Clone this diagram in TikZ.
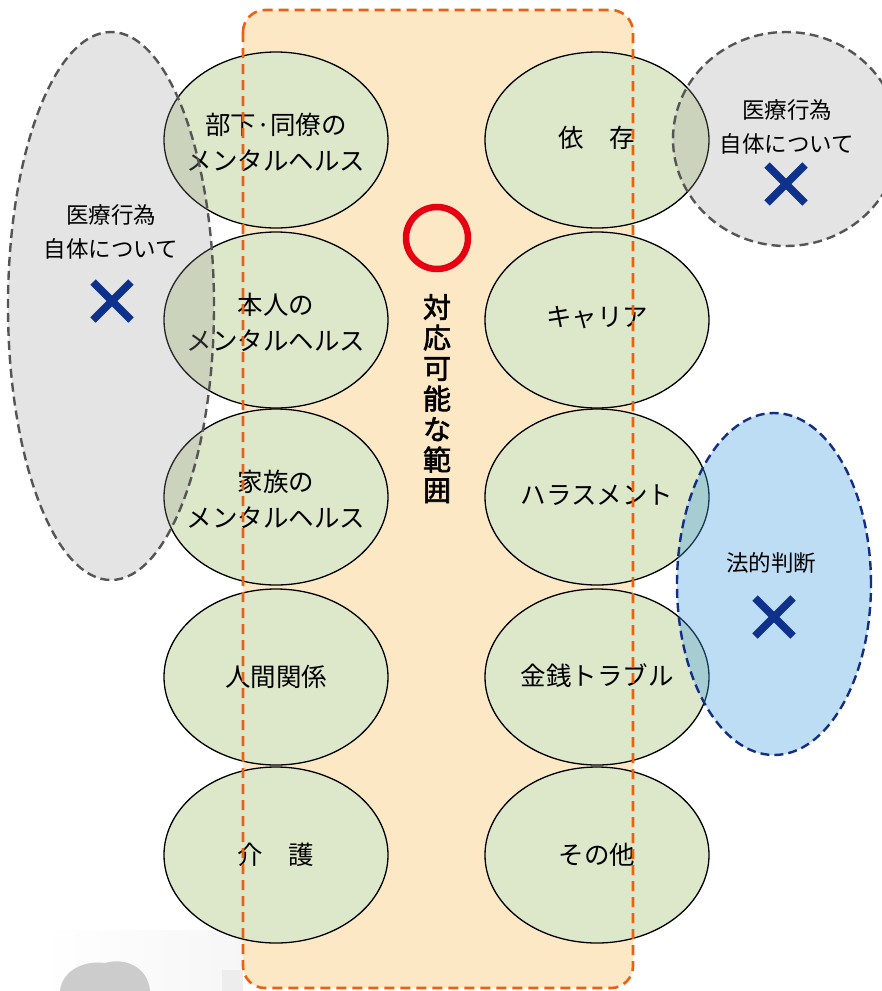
\documentclass[tikz,border=0pt]{standalone}
\usepackage{fontspec}
\newfontfamily\jp{Noto Sans CJK JP}
\newfontfamily\jpb[FakeBold=2.2]{Noto Sans CJK JP}
\usetikzlibrary{shapes.geometric}
\definecolor{orfill}{RGB}{253,232,197}
\definecolor{orline}{RGB}{235,97,20}
\definecolor{grfill}{RGB}{221,232,203}
\definecolor{redc}{RGB}{230,0,18}
\definecolor{navy}{RGB}{14,50,140}
\definecolor{dgray}{RGB}{85,85,85}
\definecolor{gshade}{RGB}{150,150,150}
\definecolor{bshade}{RGB}{66,158,224}
\definecolor{bline}{RGB}{20,45,135}
\tikzset{
  topic/.style={ellipse, draw=black, line width=1.3pt, fill=grfill, minimum width=224pt, minimum height=176pt, inner sep=0pt},
  toptext/.style={align=center, inner sep=0pt, font=\jp\fontsize{25.5}{36}\selectfont},
  grayzone/.style={ellipse, draw=dgray, line width=2.4pt, dash pattern=on 9pt off 5pt, fill=gshade, fill opacity=0.25, inner sep=0pt},
  bluezone/.style={ellipse, draw=bline, line width=2.4pt, dash pattern=on 9pt off 5pt, fill=bshade, fill opacity=0.35, inner sep=0pt},
  note/.style={align=center, font=\jp\fontsize{22.5}{34}\selectfont},
  xmark/.style={draw=navy, line width=7.5pt}
}
\begin{document}
\begin{tikzpicture}[x=1pt,y=-1pt]
\useasboundingbox (0,0) rectangle (882,991);
\fill[white] (0,0) rectangle (882,991);
% faint photo fragment bottom left
\shade[left color=white, right color=gray!7] (40,930) rectangle (243,991);
\fill[gray!40] (60,991) .. controls (62,970) and (85,960) .. (105,963) .. controls (125,957) and (148,967) .. (150,991) -- cycle;
\fill[gray!14] (222,970) rectangle (243,991);
% orange region fill
\fill[orfill, rounded corners=22pt] (243,10) rectangle (633,988);
% topic ellipses
\foreach \n/\x/\y in {a1/276/140,a2/276/320,a3/276/497,a4/276/677,a5/276/855,b1/597/140,b2/597/320,b3/597/497,b4/597/677,b5/597/855}
  \node[topic] (\n) at (\x,\y) {};
\node[toptext] (ta1) at ([yshift=-2pt]a1) {部下·同僚の\\メンタルヘルス};
\node[toptext] (ta2) at ([yshift=-2pt]a2) {本人の\\メンタルヘルス};
\node[toptext] (ta3) at ([yshift=-2pt]a3) {家族の\\メンタルヘルス};
\node[toptext] (ta4) at (a4) {人間関係};
\node[toptext] (ta5) at (a5) {介　護};
\node[toptext] (tb1) at ([yshift=2pt]b1) {依　存};
\node[toptext] (tb2) at ([yshift=2pt]b2) {キャリア};
\node[toptext] (tb3) at ([yshift=2pt]b3) {ハラスメント};
\node[toptext] (tb4) at ([yshift=1pt]b4) {金銭トラブル};
\node[toptext] (tb5) at (b5) {その他};
% orange dashed border
\draw[orline, line width=2.6pt, dash pattern=on 10pt off 6pt, rounded corners=22pt] (243,10) rectangle (633,988);
% red circle and vertical label
\node[circle, draw=redc, line width=6.5pt, minimum size=62pt, inner sep=0pt] (ok) at (437,238) {};
\node[align=center, font=\jpb\fontsize{28}{30.5}\selectfont, anchor=north, inner sep=0pt] (range) at (437,294) {対\\応\\可\\能\\な\\範\\囲};
% gray / blue zones
\node[grayzone, minimum width=206pt, minimum height=548pt] (gl) at (111,306) {};
\node[grayzone, minimum width=226pt, minimum height=214pt] (gr) at (786,139) {};
\node[bluezone, minimum width=194pt, minimum height=342pt] (bz) at (774,584) {};
% zone labels
\node[note] (tl) at (111,232) {医療行為\\自体について};
\node[note] (tr) at (787,127) {医療行為\\自体について};
\node[note] (tb) at (771,563) {法的判断};
% crosses
\coordinate (xl) at (112,301);
\coordinate (xr) at (786,184);
\coordinate (xb) at (774,617);
\foreach \c in {xl,xr,xb}{
  \draw[xmark] ([shift={(-19,-19)}]\c) -- ([shift={(19,19)}]\c);
  \draw[xmark] ([shift={(-19,19)}]\c) -- ([shift={(19,-19)}]\c);
}
\end{tikzpicture}
\end{document}
